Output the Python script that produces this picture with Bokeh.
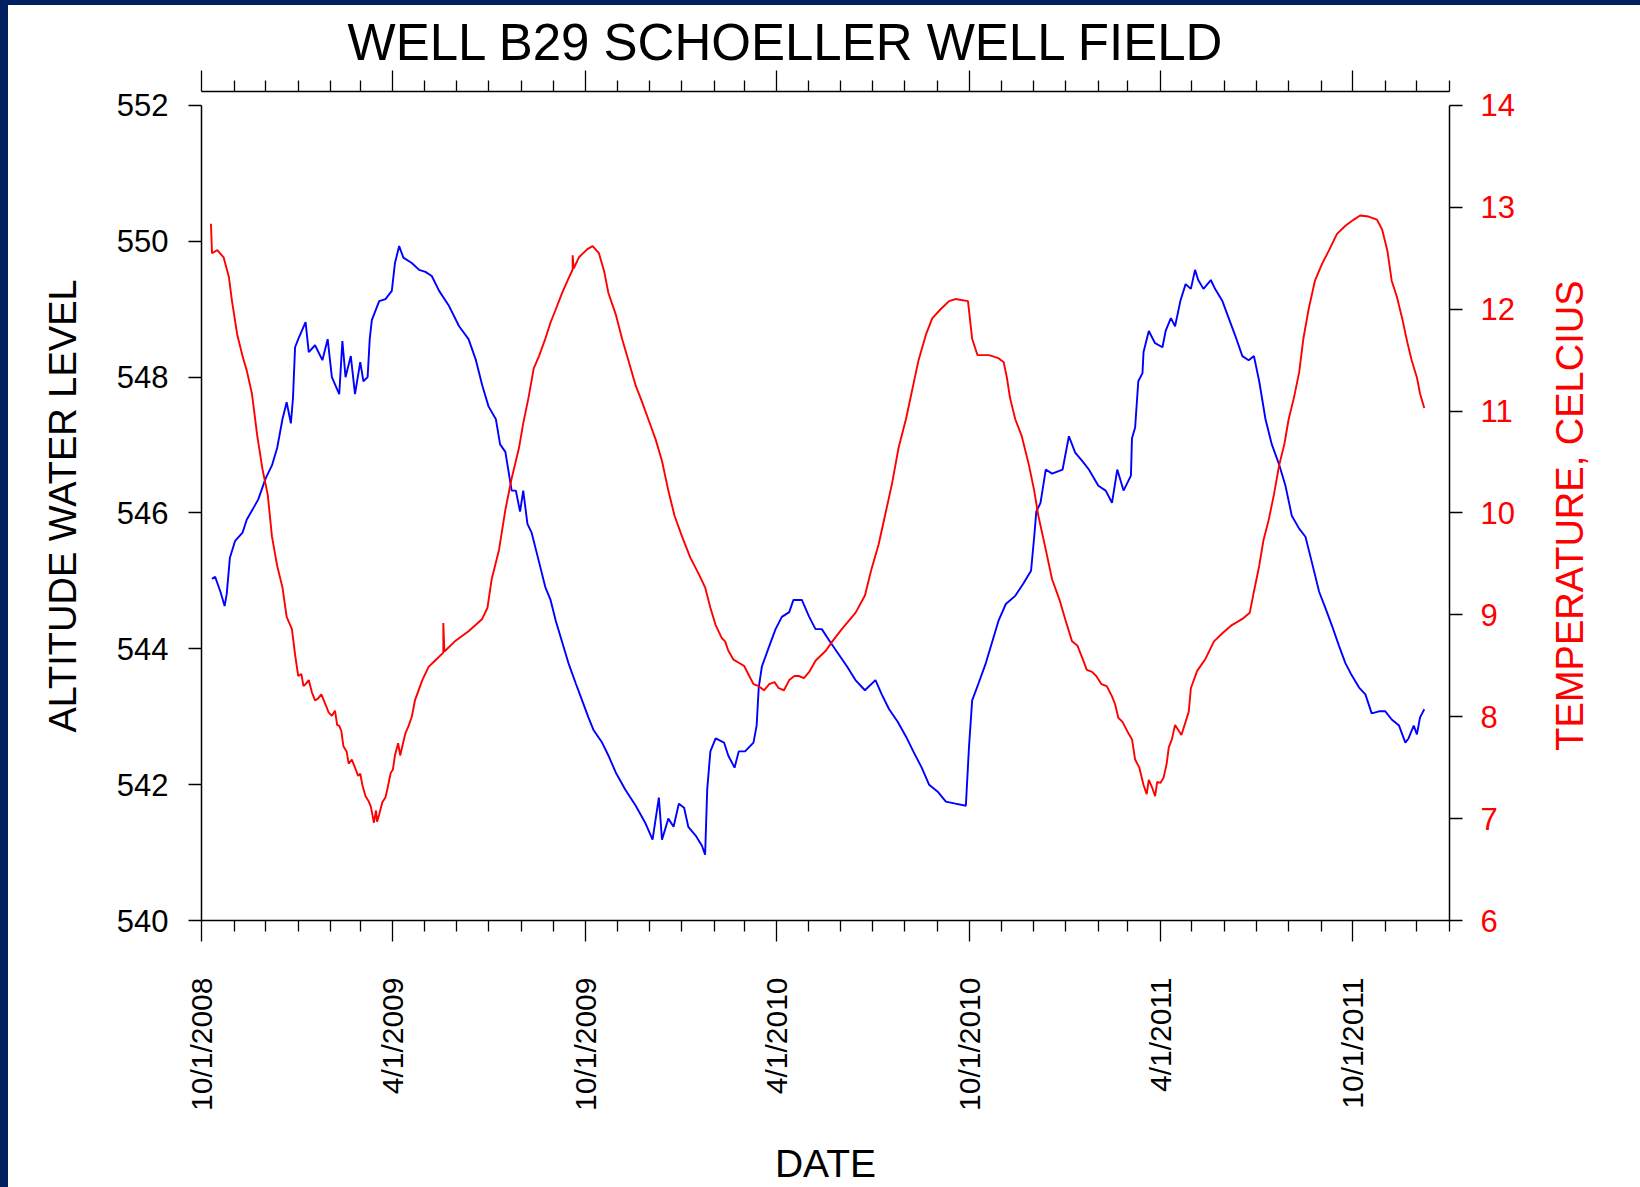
import math
import pandas as pd
from bokeh.plotting import figure
from bokeh.models import (Range1d, LinearAxis, FixedTicker, ColumnDataSource,
                          CustomJSTickFormatter)
from bokeh.layouts import column, row
from bokeh.core.properties import value
from bokeh.embed import file_html
from bokeh.resources import INLINE

FONT = "Liberation Sans"

# ---------------- data ----------------
level_dates = [
    "2008-10-11", "2008-10-14", "2008-10-19", "2008-10-23", "2008-10-25", "2008-10-28",
    "2008-11-02", "2008-11-09", "2008-11-13", "2008-11-20", "2008-11-24", "2008-12-01",
    "2008-12-07", "2008-12-12", "2008-12-17", "2008-12-21", "2008-12-25", "2008-12-27",
    "2008-12-29", "2009-01-01", "2009-01-08", "2009-01-11", "2009-01-17", "2009-01-24",
    "2009-01-29", "2009-02-02", "2009-02-09", "2009-02-12", "2009-02-15", "2009-02-20",
    "2009-02-24", "2009-03-01", "2009-03-04", "2009-03-08", "2009-03-10", "2009-03-12",
    "2009-03-19", "2009-03-25", "2009-03-31", "2009-04-03", "2009-04-07", "2009-04-11",
    "2009-04-19", "2009-04-26", "2009-05-02", "2009-05-08", "2009-05-15", "2009-05-24",
    "2009-06-03", "2009-06-12", "2009-06-19", "2009-06-25", "2009-07-01", "2009-07-08",
    "2009-07-12", "2009-07-17", "2009-07-23", "2009-07-27", "2009-07-31", "2009-08-03",
    "2009-08-07", "2009-08-11", "2009-08-18", "2009-08-24", "2009-08-29", "2009-09-03",
    "2009-09-09", "2009-09-15", "2009-09-22", "2009-09-28", "2009-10-04", "2009-10-09",
    "2009-10-17", "2009-10-23", "2009-10-30", "2009-11-08", "2009-11-18", "2009-11-27",
    "2009-12-04", "2009-12-10", "2009-12-13", "2009-12-19", "2009-12-24", "2009-12-29",
    "2010-01-03", "2010-01-07", "2010-01-14", "2010-01-20", "2010-01-23", "2010-01-25",
    "2010-01-28", "2010-02-02", "2010-02-10", "2010-02-14", "2010-02-20", "2010-02-24",
    "2010-03-02", "2010-03-10", "2010-03-13", "2010-03-15", "2010-03-18", "2010-03-25",
    "2010-03-31", "2010-04-06", "2010-04-13", "2010-04-17", "2010-04-25", "2010-05-02",
    "2010-05-08", "2010-05-14", "2010-05-22", "2010-05-30", "2010-06-07", "2010-06-15",
    "2010-06-24", "2010-07-04", "2010-07-10", "2010-07-17", "2010-07-25", "2010-08-02",
    "2010-08-09", "2010-08-17", "2010-08-24", "2010-09-01", "2010-09-09", "2010-09-18",
    "2010-09-28", "2010-10-01", "2010-10-04", "2010-10-10", "2010-10-17", "2010-10-23",
    "2010-10-29", "2010-11-05", "2010-11-14", "2010-11-22", "2010-11-29", "2010-12-02",
    "2010-12-04", "2010-12-08", "2010-12-13", "2010-12-19", "2010-12-29", "2011-01-04",
    "2011-01-10", "2011-01-17", "2011-01-23", "2011-02-01", "2011-02-08", "2011-02-14",
    "2011-02-19", "2011-02-25", "2011-03-04", "2011-03-05", "2011-03-08", "2011-03-11",
    "2011-03-15", "2011-03-16", "2011-03-21", "2011-03-27", "2011-04-03", "2011-04-06",
    "2011-04-11", "2011-04-15", "2011-04-20", "2011-04-25", "2011-04-30", "2011-05-04",
    "2011-05-07", "2011-05-12", "2011-05-19", "2011-05-23", "2011-05-30", "2011-06-05",
    "2011-06-11", "2011-06-18", "2011-06-24", "2011-06-29", "2011-07-04", "2011-07-10",
    "2011-07-16", "2011-07-23", "2011-07-29", "2011-08-04", "2011-08-11", "2011-08-17",
    "2011-08-23", "2011-08-30", "2011-09-05", "2011-09-11", "2011-09-18", "2011-09-24",
    "2011-09-30", "2011-10-07", "2011-10-13", "2011-10-19", "2011-10-26", "2011-11-01",
    "2011-11-07", "2011-11-14", "2011-11-20", "2011-11-23", "2011-11-28", "2011-12-01",
    "2011-12-04", "2011-12-08",
]
water_level = [
    545.03, 545.06, 544.84, 544.63, 544.81, 545.34,
    545.59, 545.71, 545.90, 546.09, 546.20, 546.51,
    546.70, 546.96, 547.38, 547.63, 547.32, 547.69,
    548.44, 548.56, 548.81, 548.37, 548.47, 548.25,
    548.56, 548.00, 547.75, 548.53, 548.00, 548.31,
    547.75, 548.22, 547.94, 548.00, 548.56, 548.84,
    549.12, 549.15, 549.27, 549.68, 549.93, 549.76,
    549.68, 549.58, 549.55, 549.49, 549.27, 549.06,
    548.75, 548.56, 548.25, 547.88, 547.57, 547.38,
    547.01, 546.90, 546.33, 546.33, 546.02, 546.33,
    545.84, 545.71, 545.28, 544.91, 544.72, 544.41,
    544.10, 543.79, 543.49, 543.24, 542.99, 542.80,
    542.62, 542.43, 542.18, 541.93, 541.69, 541.44,
    541.19, 541.81, 541.19, 541.50, 541.38, 541.72,
    541.66, 541.38, 541.25, 541.10, 540.97, 541.93,
    542.49, 542.68, 542.62, 542.43, 542.25, 542.49,
    542.49, 542.62, 542.87, 543.43, 543.74, 544.04,
    544.29, 544.47, 544.54, 544.72, 544.72, 544.47,
    544.29, 544.29, 544.10, 543.92, 543.74, 543.54,
    543.39, 543.54, 543.33, 543.11, 542.93, 542.71,
    542.49, 542.25, 542.00, 541.90, 541.75, 541.72,
    541.69, 542.56, 543.24, 543.49, 543.79, 544.10,
    544.41, 544.66, 544.78, 544.97, 545.15, 545.65,
    546.02, 546.15, 546.64, 546.58, 546.64, 547.13,
    546.89, 546.76, 546.64, 546.40, 546.33, 546.15,
    546.64, 546.33, 546.55, 547.10, 547.26, 547.94,
    548.06, 548.37, 548.68, 548.50, 548.44, 548.68,
    548.87, 548.75, 549.12, 549.37, 549.30, 549.58,
    549.43, 549.30, 549.43, 549.30, 549.12, 548.87,
    548.62, 548.31, 548.25, 548.31, 547.94, 547.38,
    547.01, 546.71, 546.40, 545.96, 545.77, 545.65,
    545.28, 544.84, 544.60, 544.35, 544.04, 543.79,
    543.61, 543.43, 543.33, 543.05, 543.08, 543.08,
    542.96, 542.87, 542.62, 542.68, 542.87, 542.74,
    542.99, 543.11,
]

temp_dates = [
    "2008-10-10", "2008-10-11", "2008-10-16", "2008-10-22", "2008-10-27", "2008-10-30",
    "2008-11-04", "2008-11-09", "2008-11-13", "2008-11-18", "2008-11-23", "2008-11-28",
    "2008-12-03", "2008-12-07", "2008-12-12", "2008-12-17", "2008-12-21", "2008-12-26",
    "2008-12-29", "2009-01-01", "2009-01-04", "2009-01-06", "2009-01-08", "2009-01-11",
    "2009-01-14", "2009-01-17", "2009-01-20", "2009-01-23", "2009-01-27", "2009-01-30",
    "2009-02-02", "2009-02-05", "2009-02-07", "2009-02-09", "2009-02-11", "2009-02-13",
    "2009-02-16", "2009-02-18", "2009-02-21", "2009-02-24", "2009-02-27", "2009-03-01",
    "2009-03-03", "2009-03-06", "2009-03-09", "2009-03-11", "2009-03-14", "2009-03-16",
    "2009-03-17", "2009-03-19", "2009-03-22", "2009-03-25", "2009-03-27", "2009-03-30",
    "2009-04-01", "2009-04-03", "2009-04-06", "2009-04-08", "2009-04-10", "2009-04-13",
    "2009-04-16", "2009-04-19", "2009-04-22", "2009-04-29", "2009-05-05", "2009-05-11",
    "2009-05-19", "2009-05-19", "2009-05-20", "2009-05-30", "2009-06-12", "2009-06-25",
    "2009-06-30", "2009-07-04", "2009-07-11", "2009-07-17", "2009-07-23", "2009-07-30",
    "2009-08-03", "2009-08-08", "2009-08-13", "2009-08-18", "2009-08-24", "2009-08-29",
    "2009-09-03", "2009-09-09", "2009-09-15", "2009-09-19", "2009-09-19", "2009-09-20",
    "2009-09-25", "2009-10-03", "2009-10-08", "2009-10-14", "2009-10-19", "2009-10-23",
    "2009-10-30", "2009-11-05", "2009-11-11", "2009-11-18", "2009-11-24", "2009-11-30",
    "2009-12-07", "2009-12-13", "2009-12-19", "2009-12-25", "2010-01-01", "2010-01-09",
    "2010-01-17", "2010-01-23", "2010-01-28", "2010-02-02", "2010-02-08", "2010-02-11",
    "2010-02-14", "2010-02-19", "2010-02-24", "2010-03-01", "2010-03-05", "2010-03-10",
    "2010-03-15", "2010-03-20", "2010-03-25", "2010-03-30", "2010-04-03", "2010-04-08",
    "2010-04-13", "2010-04-18", "2010-04-22", "2010-04-27", "2010-05-02", "2010-05-08",
    "2010-05-18", "2010-05-24", "2010-06-02", "2010-06-15", "2010-06-24", "2010-06-30",
    "2010-07-07", "2010-07-13", "2010-07-20", "2010-07-26", "2010-08-02", "2010-08-08",
    "2010-08-14", "2010-08-21", "2010-08-27", "2010-09-04", "2010-09-12", "2010-09-18",
    "2010-09-30", "2010-10-04", "2010-10-09", "2010-10-20", "2010-10-29", "2010-11-03",
    "2010-11-06", "2010-11-09", "2010-11-14", "2010-11-20", "2010-11-27", "2010-12-02",
    "2010-12-06", "2010-12-13", "2010-12-19", "2010-12-26", "2011-01-01", "2011-01-07",
    "2011-01-12", "2011-01-17", "2011-01-21", "2011-01-26", "2011-01-30", "2011-02-04",
    "2011-02-09", "2011-02-14", "2011-02-17", "2011-02-20", "2011-02-24", "2011-03-02",
    "2011-03-05", "2011-03-08", "2011-03-12", "2011-03-16", "2011-03-19", "2011-03-21",
    "2011-03-24", "2011-03-27", "2011-03-29", "2011-04-01", "2011-04-04", "2011-04-07",
    "2011-04-09", "2011-04-12", "2011-04-15", "2011-04-18", "2011-04-21", "2011-04-25",
    "2011-04-28", "2011-04-30", "2011-05-06", "2011-05-14", "2011-05-22", "2011-05-30",
    "2011-06-08", "2011-06-18", "2011-06-25", "2011-06-29", "2011-07-04", "2011-07-08",
    "2011-07-13", "2011-07-18", "2011-07-23", "2011-07-28", "2011-08-01", "2011-08-06",
    "2011-08-11", "2011-08-15", "2011-08-20", "2011-08-26", "2011-09-02", "2011-09-08",
    "2011-09-16", "2011-09-24", "2011-10-02", "2011-10-08", "2011-10-16", "2011-10-24",
    "2011-10-29", "2011-11-03", "2011-11-07", "2011-11-12", "2011-11-17", "2011-11-22",
    "2011-11-26", "2011-12-01", "2011-12-04", "2011-12-08",
]
temperature = [
    12.84, 12.55, 12.58, 12.51, 12.32, 12.08,
    11.75, 11.54, 11.40, 11.17, 10.76, 10.43,
    10.18, 9.77, 9.48, 9.27, 8.98, 8.86,
    8.61, 8.40, 8.42, 8.30, 8.32, 8.36,
    8.24, 8.16, 8.18, 8.22, 8.12, 8.04,
    8.01, 8.06, 7.92, 7.91, 7.86, 7.71,
    7.66, 7.54, 7.58, 7.50, 7.42, 7.44,
    7.33, 7.22, 7.17, 7.12, 6.96, 7.08,
    6.97, 7.04, 7.16, 7.21, 7.30, 7.45,
    7.48, 7.62, 7.74, 7.62, 7.71, 7.84,
    7.91, 8.00, 8.16, 8.36, 8.49, 8.55,
    8.63, 8.92, 8.64, 8.74, 8.84, 8.96,
    9.07, 9.35, 9.64, 10.03, 10.34, 10.64,
    10.88, 11.13, 11.42, 11.54, 11.71, 11.87,
    12.00, 12.16, 12.30, 12.39, 12.53, 12.40,
    12.51, 12.59, 12.62, 12.55, 12.37, 12.16,
    11.95, 11.71, 11.50, 11.25, 11.09, 10.92,
    10.72, 10.51, 10.22, 9.97, 9.77, 9.56,
    9.40, 9.27, 9.07, 8.90, 8.77, 8.74,
    8.65, 8.56, 8.53, 8.50, 8.42, 8.32,
    8.30, 8.26, 8.32, 8.34, 8.28, 8.26,
    8.36, 8.40, 8.40, 8.38, 8.44, 8.55,
    8.65, 8.74, 8.86, 9.02, 9.19, 9.44,
    9.69, 9.97, 10.30, 10.64, 10.92, 11.21,
    11.50, 11.75, 11.91, 12.00, 12.08, 12.10,
    12.08, 11.71, 11.55, 11.55, 11.52, 11.48,
    11.33, 11.13, 10.92, 10.76, 10.47, 10.22,
    9.97, 9.64, 9.35, 9.15, 8.94, 8.74,
    8.70, 8.57, 8.46, 8.44, 8.40, 8.32,
    8.30, 8.20, 8.12, 7.99, 7.95, 7.83,
    7.78, 7.58, 7.50, 7.33, 7.24, 7.38,
    7.31, 7.22, 7.36, 7.35, 7.40, 7.54,
    7.70, 7.78, 7.92, 7.87, 7.82, 7.95,
    8.05, 8.28, 8.45, 8.57, 8.74, 8.82,
    8.90, 8.96, 9.02, 9.23, 9.48, 9.73,
    9.93, 10.18, 10.47, 10.68, 10.92, 11.13,
    11.38, 11.71, 12.00, 12.28, 12.45, 12.57,
    12.74, 12.82, 12.88, 12.92, 12.91, 12.88,
    12.78, 12.57, 12.28, 12.12, 11.91, 11.67,
    11.50, 11.33, 11.17, 11.03,
]

major_tick_dates = ["2008-10-01", "2009-04-01", "2009-10-01", "2010-04-01",
                    "2010-10-01", "2011-04-01", "2011-10-01"]
level_ticks = [540, 542, 544, 546, 548, 550, 552]
temp_ticks = [6, 7, 8, 9, 10, 11, 12, 13, 14]

title_text = "WELL B29 SCHOELLER WELL FIELD"
left_label = "ALTITUDE WATER LEVEL"
right_label = "TEMPERATURE, CELCIUS"
bottom_label = "DATE"


def ms(s):
    return pd.Timestamp(s).value / 1e6


month_starts = [d.strftime("%Y-%m-%d") for d in pd.date_range("2008-11-01", "2012-01-01", freq="MS")]
minor_tick_dates = [d for d in month_starts if d not in major_tick_dates]
major_ms = [ms(d) for d in major_tick_dates]
minor_ms = [ms(d) for d in minor_tick_dates]

# ---------------- geometry ----------------
FRAME_TOP, AX_TOP, FRAME_BOTTOM = 91, 105, 921     # page pixels
span = FRAME_BOTTOM - AX_TOP
y_top = 552 + (AX_TOP - FRAME_TOP) * 12 / span
t_top = 14 + (AX_TOP - FRAME_TOP) * 8 / span

SIDE_W = 100          # width of the strip that carries the right-hand axis title
MAIN_W = 1632 - SIDE_W
H = 1182

level_range = Range1d(540, y_top)

p = figure(width=MAIN_W, height=H,
           x_range=Range1d(ms("2008-10-01"), ms("2012-01-01")),
           y_range=level_range,
           x_axis_type=None, y_axis_type=None,
           output_backend="svg", toolbar_location=None,
           min_border_left=193, min_border_right=MAIN_W - 1441,
           min_border_top=86, min_border_bottom=266,
           background_fill_color="white", border_fill_color="white")
p.outline_line_color = None
p.extra_y_ranges = {"temp": Range1d(6, t_top)}

p.title.text = title_text
p.title.text_font = FONT
p.title.text_font_size = "51px"
p.title.text_font_style = "normal"
p.title.text_color = "black"
p.title.align = "left"
p.title.offset = 146
p.title.standoff = 0


def style(ax, tick_major, tick_minor, color="black", size="31px", standoff=20):
    ax.axis_line_color = "black"
    ax.axis_line_width = 1.5
    ax.major_tick_line_color = "black"
    ax.major_tick_line_width = 1.3
    ax.minor_tick_line_color = "black"
    ax.minor_tick_line_width = 1.3
    ax.major_tick_in = 0
    ax.minor_tick_in = 0
    ax.major_tick_out = tick_major
    ax.minor_tick_out = tick_minor
    ax.major_label_text_font = FONT
    ax.major_label_text_font_size = size
    ax.major_label_text_color = color
    ax.major_label_standoff = standoff
    ax.axis_label_text_font = FONT
    ax.axis_label_text_font_style = "normal"


date_fmt = CustomJSTickFormatter(code="""
const d = new Date(tick);
return (d.getUTCMonth() + 1) + "/" + d.getUTCDate() + "/" + d.getUTCFullYear();
""")

# left axis
left = LinearAxis(ticker=FixedTicker(ticks=level_ticks, minor_ticks=[]), bounds=(540, 552))
style(left, 13, 0, standoff=20)
left.minor_tick_line_color = None
left.axis_label = left_label
left.axis_label_text_font_size = "38px"
left.axis_label_text_color = "black"
left.axis_label_standoff = 30
p.add_layout(left, "left")

# right axis
right = LinearAxis(y_range_name="temp",
                   ticker=FixedTicker(ticks=temp_ticks, minor_ticks=[]), bounds=(6, 14))
style(right, 13, 0, color="#FF0000", standoff=18)
right.minor_tick_line_color = None
p.add_layout(right, "right")

# bottom axis
below = LinearAxis(ticker=FixedTicker(ticks=major_ms, minor_ticks=minor_ms), formatter=date_fmt)
style(below, 21, 11, size="30px", standoff=36)
below.major_label_orientation = math.pi / 2
below.axis_label = bottom_label
below.axis_label_text_font_size = "39px"
below.axis_label_text_color = "black"
below.axis_label_text_line_height = 1.0
below.axis_label_standoff = 28
p.add_layout(below, "below")

# top axis (ticks only)
above = LinearAxis(ticker=FixedTicker(ticks=major_ms, minor_ticks=minor_ms),
                   formatter=CustomJSTickFormatter(code="return '';"))
style(above, 21, 11, size="0px", standoff=0)
p.add_layout(above, "above")

# lines
src_level = ColumnDataSource(dict(date=pd.to_datetime(level_dates), level=water_level))
src_temp = ColumnDataSource(dict(date=pd.to_datetime(temp_dates), temp=temperature))
p.line("date", "level", source=src_level, line_color="#0000FF", line_width=1.9)
p.line("date", "temp", source=src_temp, line_color="#FF0000", line_width=1.9, y_range_name="temp")

# side strip with the right-hand axis title (reads bottom to top); shares the level range
q = figure(width=SIDE_W, height=H, x_range=Range1d(0, SIDE_W), y_range=level_range,
           x_axis_type=None, y_axis_type=None, title=None,
           output_backend="svg", toolbar_location=None, min_border=0,
           background_fill_color="white", border_fill_color="white")
q.outline_line_color = None
label_mid = 552 - (515.6 - AX_TOP) * 12 / span
q.text(x=[29], y=[label_mid], text=[right_label], angle=math.pi / 2,
       text_font=value(FONT), text_font_size=value("38px"), text_color="#FF0000",
       text_align="center", text_baseline="middle")

inner = row(p, q, styles={"background-color": "white"})
inner.margin = (5, 0, 0, 8)
root = column(inner, styles={"background-color": "#002060"})

open("out.html", "w").write(file_html(root, INLINE))
